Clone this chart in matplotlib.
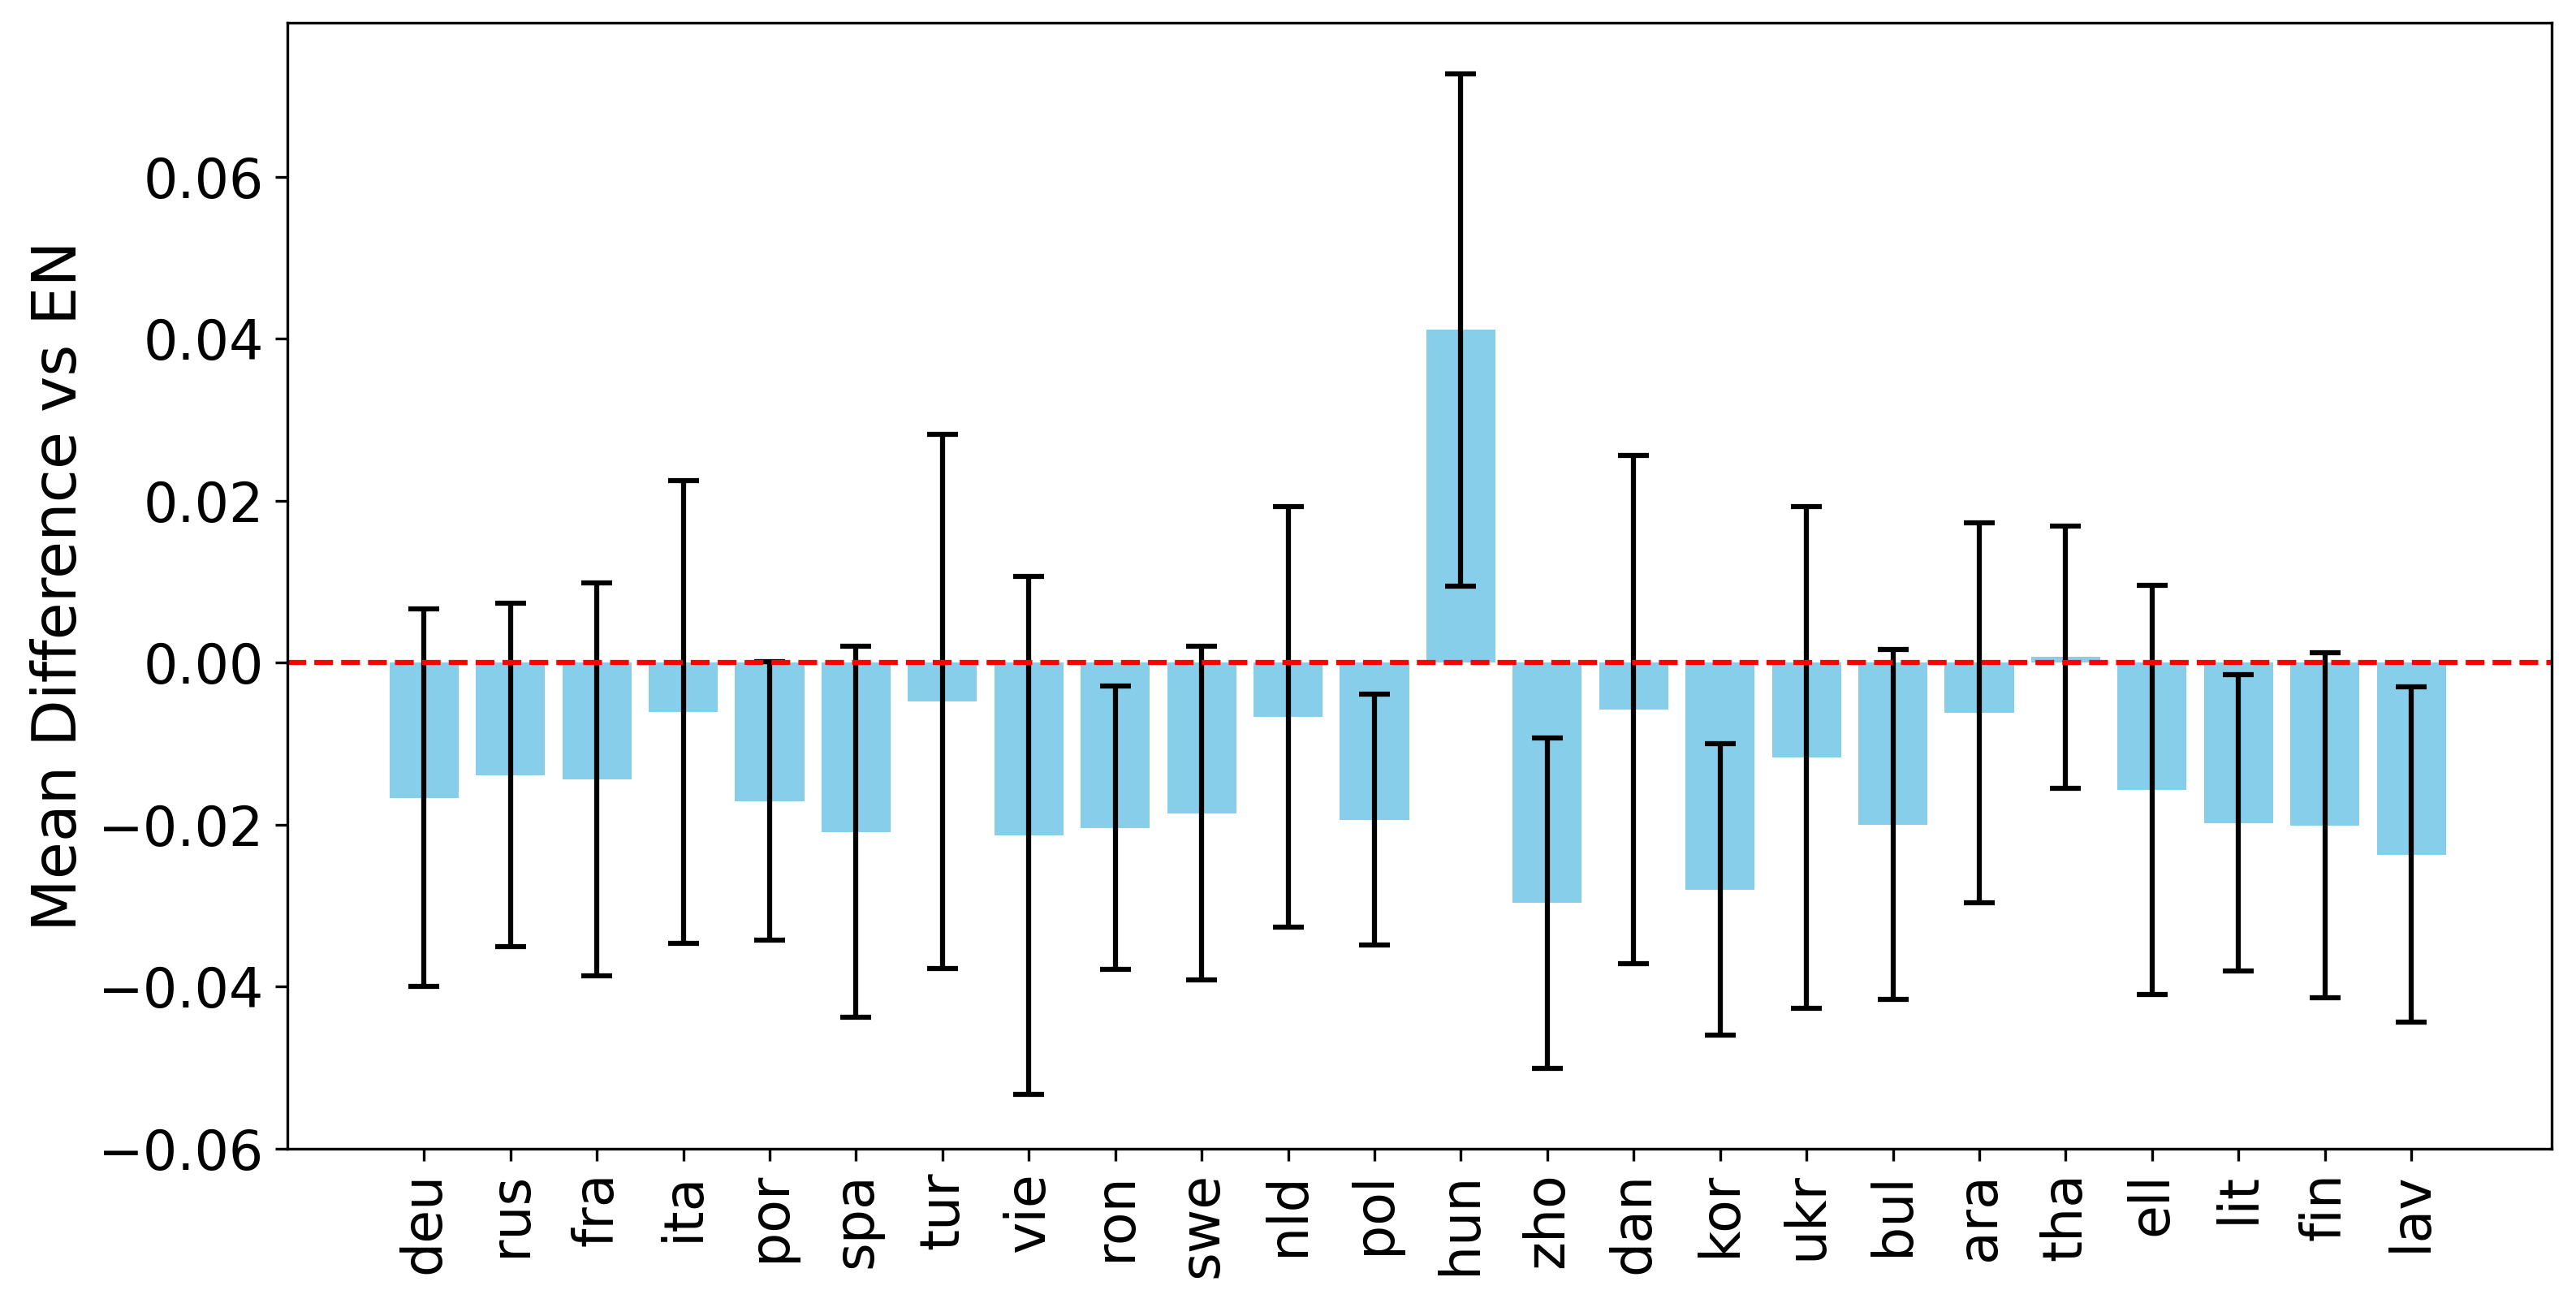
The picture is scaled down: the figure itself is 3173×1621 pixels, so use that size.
import matplotlib
matplotlib.use('Agg')
import matplotlib.pyplot as plt

# Languages and mean difference vs EN
languages = ['deu', 'rus', 'fra', 'ita', 'por', 'spa', 'tur', 'vie', 'ron', 'swe',
             'nld', 'pol', 'hun', 'zho', 'dan', 'kor', 'ukr', 'bul', 'ara', 'tha',
             'ell', 'lit', 'fin', 'lav']
mean_diff = [-0.0167, -0.0139, -0.0144, -0.0061, -0.0171, -0.0209, -0.0048, -0.0213,
             -0.0204, -0.0186, -0.0067, -0.0194, 0.0411, -0.0297, -0.0058, -0.0280,
             -0.0117, -0.0200, -0.0062, 0.0007, -0.0157, -0.0198, -0.0201, -0.0237]
err = [0.0233, 0.0212, 0.0243, 0.0286, 0.0172, 0.0229, 0.0330, 0.0320,
       0.0175, 0.0206, 0.0260, 0.0155, 0.0316, 0.0204, 0.0314, 0.0180,
       0.0310, 0.0216, 0.0235, 0.0162, 0.0253, 0.0183, 0.0213, 0.0207]

fig = plt.figure(figsize=(3173 / 300, 1621 / 300), dpi=300)
ax = fig.add_axes([0.1116, 0.1273, 0.8788, 0.8552])

x = range(len(languages))
ax.bar(x, mean_diff, yerr=err, capsize=4.5, color='skyblue', width=0.8,
       error_kw={'elinewidth': 1.5, 'capthick': 1.5})
ax.axhline(0, color='red', linestyle='--', linewidth=1.5)

ax.set_xticks(list(x))
ax.set_xticklabels(languages, rotation=90, fontsize=16)
ax.tick_params(axis='y', labelsize=16)
ax.set_ylabel('Mean Difference vs EN', fontsize=18, labelpad=2.5)
ax.set_xlim(-1.58, 24.62)
ax.set_ylim(-0.06, 0.079)
ax.set_yticks([-0.06, -0.04, -0.02, 0.0, 0.02, 0.04, 0.06])

fig.savefig('out.png', dpi=300)
